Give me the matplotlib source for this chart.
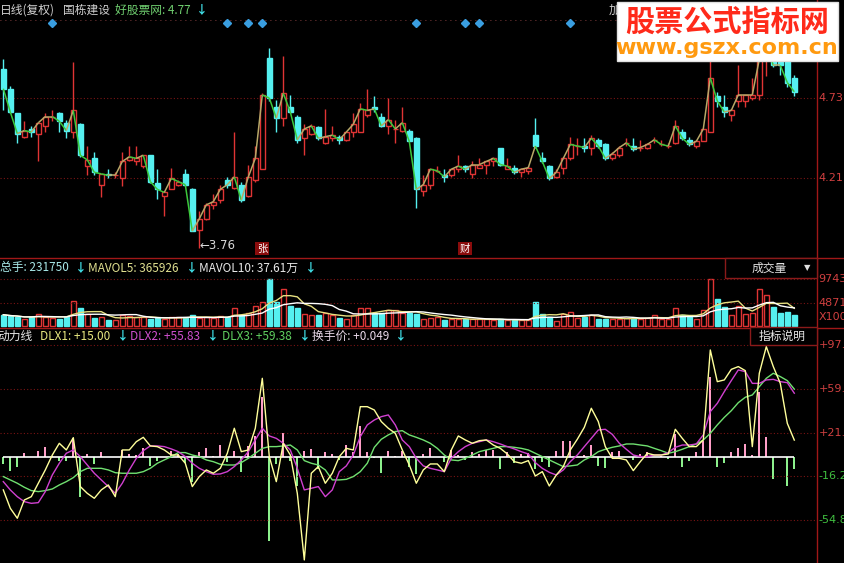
import numpy as np
import pandas as pd
import matplotlib
matplotlib.use("Agg")
import matplotlib.pyplot as plt
import matplotlib.transforms as mtransforms
from matplotlib.collections import LineCollection
from matplotlib.patches import Rectangle
from matplotlib.lines import Line2D

plt.rcParams['font.family'] = ['Noto Sans CJK SC', 'DejaVu Sans']

# ---- price data ----
opens = [4.92, 4.79, 4.63, 4.48, 4.53, 4.50, 4.55, 4.61, 4.63, 4.57,
         4.51, 4.56, 4.29, 4.34, 4.17, 4.24, 4.23, 4.21, 4.33, 4.32,
         4.29, 4.36, 4.18, 4.10, 4.14, 4.17, 4.24, 4.14, 3.88, 3.95,
         4.04, 4.07, 4.20, 4.15, 4.17, 4.10, 4.20, 4.27, 4.99, 4.67,
         4.60, 4.67, 4.61, 4.47, 4.50, 4.54, 4.44, 4.47, 4.48, 4.46,
         4.51, 4.51, 4.62, 4.67, 4.61, 4.55, 4.53, 4.52, 4.52, 4.47,
         4.13, 4.17, 4.26, 4.23, 4.23, 4.27, 4.29, 4.24, 4.28, 4.30,
         4.32, 4.41, 4.27, 4.28, 4.25, 4.26, 4.49, 4.34, 4.29, 4.22,
         4.28, 4.34, 4.42, 4.42, 4.41, 4.46, 4.43, 4.34, 4.36, 4.44,
         4.42, 4.41, 4.41, 4.46, 4.43, 4.42, 4.44, 4.51, 4.46, 4.42,
         4.45, 4.51, 4.74, 4.67, 4.62, 4.71, 4.71, 4.73, 4.75, 5.00,
         5.06, 4.96, 4.98, 4.86]
highs = [4.98, 4.81, 4.63, 4.58, 4.55, 4.57, 4.63, 4.65, 4.64, 4.59,
         4.96, 4.57, 4.42, 4.38, 4.24, 4.27, 4.25, 4.38, 4.42, 4.42,
         4.36, 4.36, 4.27, 4.13, 4.28, 4.20, 4.27, 4.15, 4.00, 4.05,
         4.11, 4.17, 4.22, 4.51, 4.19, 4.30, 4.42, 4.76, 5.05, 4.72,
         5.00, 4.75, 4.62, 4.56, 4.56, 4.55, 4.66, 4.55, 4.49, 4.51,
         4.63, 4.70, 4.79, 4.74, 4.63, 4.73, 4.59, 4.67, 4.53, 4.48,
         4.23, 4.28, 4.29, 4.27, 4.27, 4.36, 4.30, 4.32, 4.34, 4.32,
         4.35, 4.41, 4.34, 4.30, 4.28, 4.29, 4.60, 4.38, 4.30, 4.27,
         4.35, 4.48, 4.47, 4.47, 4.49, 4.47, 4.44, 4.38, 4.42, 4.47,
         4.47, 4.46, 4.44, 4.48, 4.46, 4.44, 4.59, 4.53, 4.48, 4.45,
         4.53, 5.04, 4.77, 4.75, 4.66, 4.94, 4.75, 4.86, 5.06, 5.12,
         5.10, 4.98, 4.99, 4.88]
lows = [4.65, 4.63, 4.44, 4.47, 4.48, 4.32, 4.51, 4.58, 4.51, 4.47,
        4.47, 4.35, 4.23, 4.23, 4.09, 4.21, 4.21, 4.16, 4.32, 4.30,
        4.28, 4.18, 4.08, 3.97, 4.14, 4.16, 4.16, 3.87, 3.76, 3.94,
        4.01, 4.05, 4.15, 4.14, 4.06, 4.09, 4.19, 4.27, 4.71, 4.51,
        4.55, 4.63, 4.44, 4.36, 4.49, 4.46, 4.43, 4.45, 4.43, 4.45,
        4.48, 4.51, 4.61, 4.64, 4.54, 4.50, 4.44, 4.51, 4.45, 4.02,
        4.10, 4.14, 4.25, 4.19, 4.22, 4.25, 4.25, 4.21, 4.28, 4.24,
        4.29, 4.29, 4.27, 4.24, 4.22, 4.24, 4.41, 4.31, 4.20, 4.21,
        4.24, 4.33, 4.36, 4.38, 4.36, 4.41, 4.33, 4.33, 4.35, 4.42,
        4.39, 4.39, 4.40, 4.44, 4.42, 4.41, 4.43, 4.46, 4.42, 4.41,
        4.45, 4.51, 4.67, 4.61, 4.58, 4.67, 4.67, 4.72, 4.72, 4.87,
        4.93, 4.88, 4.80, 4.74]
closes = [4.79, 4.64, 4.50, 4.52, 4.51, 4.57, 4.61, 4.61, 4.58, 4.52,
          4.65, 4.36, 4.33, 4.25, 4.24, 4.23, 4.23, 4.32, 4.35, 4.34,
          4.36, 4.19, 4.14, 4.12, 4.21, 4.19, 4.17, 3.87, 3.95, 4.04,
          4.06, 4.14, 4.17, 4.22, 4.07, 4.22, 4.34, 4.75, 4.73, 4.60,
          4.76, 4.64, 4.46, 4.53, 4.55, 4.47, 4.48, 4.49, 4.46, 4.51,
          4.56, 4.66, 4.65, 4.66, 4.55, 4.59, 4.53, 4.57, 4.45, 4.14,
          4.17, 4.27, 4.26, 4.22, 4.27, 4.29, 4.27, 4.30, 4.30, 4.32,
          4.34, 4.30, 4.29, 4.25, 4.27, 4.28, 4.42, 4.32, 4.21, 4.25,
          4.34, 4.43, 4.42, 4.41, 4.47, 4.42, 4.34, 4.37, 4.41, 4.44,
          4.40, 4.41, 4.43, 4.46, 4.43, 4.42, 4.55, 4.47, 4.43, 4.45,
          4.53, 4.86, 4.71, 4.64, 4.65, 4.75, 4.75, 4.75, 4.98, 5.08,
          4.94, 4.94, 4.83, 4.77]

# volume, in units of 100 shares
volumes = [2336, 1992, 1855, 1374, 1855, 2542, 1855, 1718, 1511, 1855,
           5153, 3710, 2542, 1649, 1855, 1305, 1305, 2198, 2061, 1855,
           1855, 1511, 1649, 1511, 1855, 1855, 1649, 2336, 1649, 1855,
           1649, 1992, 1855, 3779, 2336, 2748, 4053, 4946, 9743, 4946,
           7694, 4122, 3710, 2542, 2336, 2198, 2748, 2198, 1718, 1511,
           2198, 3710, 3710, 2748, 2748, 3366, 3229, 2748, 2748, 2542,
           1511, 1718, 1924, 1237, 1511, 1374, 1511, 1374, 1374, 1374,
           1237, 1374, 1237, 1237, 1237, 1237, 4946, 2405, 1924, 1031,
           2405, 2885, 1718, 1924, 2198, 1511, 1374, 1511, 1511, 1649,
           1649, 1511, 1649, 2336, 1511, 1511, 3710, 2336, 1855, 1511,
           3229, 9743, 5633, 3916, 2300, 4200, 2500, 2600, 7700, 6500,
           4000, 2600, 2900, 2318]

# DLX indicator lines and histogram
dlx1 = [-28.4, -44.4, -53.1, -37.2, -34.3, -22.6, -11.0, 2.0, 12.2, 6.4,
        17.1, -25.5, -31.4, -35.7, -28.4, -24.1, -34.3, 6.4, 6.4, 13.6,
        17.4, 9.9, 9.3, 6.4, 2.0, 2.0, -5.2, -25.5, -16.8, -11.0,
        -13.9, -9.6, 3.5, 25.3, 4.9, 6.4, 25.3, 68.8, 0.6, -21.2,
        12.2, 2.0, -31.4, -89.4, -13.9, -8.1, -22.6, -13.9, 0.6, 7.8,
        6.4, 44.1, 44.1, 41.2, 31.1, 25.3, 20.9, 6.4, -6.7, -22.6,
        -11.0, -5.8, -5.8, -12.5, 6.4, 18.6, 15.1, 12.2, 14.5, 15.1,
        10.7, 7.8, 2.9, -3.8, -5.2, -2.9, -16.3, -12.5, -25.0, -15.4,
        -8.1, 6.4, 15.7, 26.1, 42.7, 31.1, 9.3, -0.9, -0.9, -2.3,
        -11.6, -3.8, 3.5, 2.0, 2.0, 2.9, 24.4, 16.5, 9.3, 9.3,
        15.1, 93.5, 65.9, 67.4, 76.6, 79.0, 75.5, 9.3, 73.2, 96.4,
        79.0, 64.4, 29.6, 15.00]
dlx2 = [-21.2, -28.4, -34.3, -38.6, -40.1, -39.5, -29.9, -15.4, -5.2, 3.5,
        6.4, 0.6, -6.7, -13.9, -19.7, -25.5, -31.4, -22.6, -11.0, -0.9,
        5.8, 9.9, 9.9, 9.3, 7.3, 4.9, 0.6, -5.2, -9.6, -12.5,
        -14.8, -14.5, -12.5, -8.1, -2.3, 4.9, 15.1, 25.3, 18.6, 16.5,
        12.2, 6.4, -9.6, -28.4, -27.0, -25.5, -34.3, -28.4, -12.5, -7.5,
        2.0, 18.0, 28.2, 32.5, 35.4, 36.9, 28.2, 15.1, 9.3, -0.9,
        -7.5, -9.6, -11.0, -12.5, -0.9, 4.9, 9.3, 12.2, 13.6, 15.1,
        13.6, 11.6, 9.3, 7.3, 4.9, 2.9, -4.6, -9.6, -13.1, -15.4,
        -11.0, -3.8, 2.0, 9.3, 16.5, 23.8, 24.4, 20.0, 12.2, 7.0,
        2.0, 0.6, 0.6, 2.0, 2.0, 4.1, 8.7, 10.7, 10.7, 11.6,
        19.5, 39.8, 47.0, 57.2, 66.8, 76.1, 74.6, 64.4, 64.4, 67.4,
        67.9, 65.9, 65.0, 55.83]
dlx3 = [-16.8, -19.7, -22.6, -26.1, -29.0, -29.9, -29.0, -27.6, -24.1, -21.2,
        -17.7, -12.5, -9.6, -9.6, -9.6, -11.0, -13.4, -13.9, -13.9, -13.9,
        -12.5, -9.6, -5.2, -2.3, 0.6, 4.1, 4.1, 2.0, 0.6, -2.3,
        -3.8, -6.1, -6.7, -6.7, -4.6, -0.9, 3.5, 7.8, 9.3, 9.3,
        9.9, 10.7, 6.4, -2.9, -5.2, -6.7, -11.0, -19.7, -19.7, -19.2,
        -16.8, -12.5, -5.2, 8.7, 15.7, 19.5, 22.4, 23.2, 19.5, 17.4,
        15.1, 12.2, 7.8, 2.0, -2.3, -2.9, -0.9, 2.0, 4.9, 6.4,
        7.8, 9.3, 9.3, 8.7, 7.8, 6.4, 3.5, 0.6, -2.3, -5.2,
        -8.1, -7.5, -6.7, -2.3, 0.6, 4.9, 7.0, 8.7, 9.9, 11.6,
        11.6, 10.7, 9.9, 7.8, 5.8, 3.5, 4.9, 7.0, 9.3, 11.6,
        15.1, 20.9, 28.2, 34.8, 40.6, 47.6, 52.3, 54.3, 61.5, 68.8,
        73.2, 70.3, 66.8, 59.38]
hist = [-5.8, -12.2, -8.7, 3.8, 0, 5.8, 9.3, 1.5, -2.9, -3.5,
        16.8, -34.3, 2.9, -5.8, 4.9, 0, 0, 6.4, 2.9, 2.3,
        8.1, -7.3, -3.5, 0, 5.8, 2.9, -5.2, -21.8, 4.4, 8.1,
        1.5, 11.0, -4.4, 5.8, -13.1, 10.2, 18.9, 52.2, -72.6, -5.8,
        20.9, -2.9, -24.7, 5.8, 7.3, -10.2, 4.9, 2.9, -2.3, 11.0,
        4.9, 27.6, 4.4, -0.6, -13.9, 5.8, 1.5, 5.8, -8.1, -14.5,
        2.9, 8.1, 0, -4.4, 6.4, 2.3, -2.3, 4.9, 2.9, 6.4,
        6.4, -10.2, 4.4, -5.2, 2.9, 3.5, -10.2, -4.4, -8.7, 5.8,
        14.5, 13.9, 0, 2.3, 11.0, -7.3, -9.3, 4.4, 5.8, 0,
        -2.3, 2.9, 4.4, 0, 1.5, -1.5, 20.3, -8.7, -3.5, 4.4,
        14.5, 69.7, -8.7, -5.2, 4.9, 7.8, 11.6, 2.3, 56.6, 17.4,
        -18.9, 0, -24.7, -10.2]

signal_days = [7, 32, 35, 37, 59, 66, 68, 81]   # blue diamonds on top
event_marks = [(37, '张'), (66, '财')]
price_ticks = [4.73, 4.21]
vol_ticks = [9743, 4871]
dlx_ticks = [97.6, 59.5, 21.4, -16.2, -54.8]

# ---- figure layout, in pixels ----
W, H = 844, 563
AX_R = 817
fig = plt.figure(figsize=(W / 100, H / 100), dpi=100, facecolor='black')


def px_axes(y0, y1):
    ax = fig.add_axes([0, 1 - y1 / H, AX_R / W, (y1 - y0) / H])
    ax.set_facecolor('black')
    ax.set_axis_off()
    ax.set_xlim(-3.3 / 7, (AX_R - 3.3) / 7)
    return ax


def ftext(x, y, s, color, size=8.5, **kw):
    fig.text(x / W, 1 - y / H, s, color=color, fontsize=size, va='center', **kw)


RED = '#e03434'
CYAN = '#55f0f0'
GRID = '#7a1414'
LINE = '#a01818'
TICK_RED = '#d04040'
n = len(closes)
x = np.arange(n)
up = [c >= o for o, c in zip(opens, closes)]
bw = 0.66

# ---- price panel ----
axp = px_axes(20, 258)
axp.set_ylim(4.73 - 160 * 0.00646, 4.73 + 78 * 0.00646)
for t in price_ticks:
    axp.axhline(t, color=GRID, lw=0.8, ls=(0, (1, 2)))
axp.axhline(axp.get_ylim()[1], color='#5a2a2a', lw=1.2, ls=(0, (1, 2)))

for i in range(n):
    o, h, l, c = opens[i], highs[i], lows[i], closes[i]
    col = RED if up[i] else CYAN
    lo_b, hi_b = min(o, c), max(o, c)
    axp.vlines(i, l, lo_b, color=col, lw=1)
    axp.vlines(i, hi_b, h, color=col, lw=1)
    if hi_b - lo_b < 0.004:
        axp.hlines(o, i - bw / 2, i + bw / 2, color=col, lw=1)
    elif up[i]:
        axp.add_patch(Rectangle((i - bw / 2, lo_b), bw, hi_b - lo_b,
                                fc='black', ec=col, lw=1, zorder=3))
    else:
        axp.add_patch(Rectangle((i - bw / 2, lo_b), bw, hi_b - lo_b,
                                fc=col, ec=col, lw=1, zorder=3))

segs = [[(i, closes[i]), (i + 1, closes[i + 1])] for i in range(n - 1)]
seg_cols = ['#b8a868' if closes[i + 1] >= closes[i] else '#3cc83c' for i in range(n - 1)]
axp.add_collection(LineCollection(segs, colors=seg_cols, lw=1.1, zorder=4))

top = mtransforms.blended_transform_factory(axp.transData, axp.transAxes)
axp.plot(signal_days, [0.986] * len(signal_days), 'D', color='#3a9ee0', ms=4.5,
         transform=top, clip_on=False, ls='none')
for i, ch in event_marks:
    axp.text(i, 0.04, ch, color='white', fontsize=7.5, ha='center', va='center',
             transform=top, bbox=dict(fc='#8a0c0c', ec='none', pad=1.2))
lo_i = int(np.argmin(lows))
axp.annotate('\u2190' + f'{lows[lo_i]:.2f}', (lo_i, lows[lo_i]), xytext=(0, 2),
             textcoords='offset points', color='#d8d8d8', fontsize=8.5,
             va='center', family=['DejaVu Sans'])

rt = mtransforms.blended_transform_factory(axp.transAxes, axp.transData)
for t in price_ticks:
    axp.text(1.002, t, f'{t:.2f}', color=TICK_RED, fontsize=8, va='center',
             transform=rt, clip_on=False, family=['DejaVu Sans'])

# ---- volume panel ----
axv = px_axes(258, 328)
vscale = 9743 / 47.0
axv.set_ylim(-2 * vscale, 68 * vscale)
for t in vol_ticks:
    axv.axhline(t, color=GRID, lw=0.8, ls=(0, (1, 2)))
for i in range(n):
    if up[i]:
        axv.add_patch(Rectangle((i - bw / 2, 0), bw, volumes[i], fc='black', ec=RED, lw=1))
    else:
        axv.add_patch(Rectangle((i - bw / 2, 0), bw, volumes[i], fc=CYAN, ec=CYAN, lw=1))
vol_s = pd.Series(volumes, dtype=float)
axv.plot(x, vol_s.rolling(5, min_periods=1).mean(), color='#e6e080', lw=1)
axv.plot(x, vol_s.rolling(10, min_periods=1).mean(), color='white', lw=1)
rv = mtransforms.blended_transform_factory(axv.transAxes, axv.transData)
for t in vol_ticks:
    axv.text(1.002, t, str(t), color=TICK_RED, fontsize=8, va='center',
             transform=rv, clip_on=False, family=['DejaVu Sans'])
axv.text(1.002, 0.15, 'X100', color=TICK_RED, fontsize=8, va='center',
         transform=axv.transAxes, clip_on=False, family=['DejaVu Sans'])

# ---- DLX panel ----
axi = px_axes(328, 563)
axi.set_ylim((457.3 - 563) / 1.148, (457.3 - 328) / 1.148)
for t in dlx_ticks:
    axi.axhline(t, color=GRID, lw=0.8, ls=(0, (1, 2)))
hcols = ['#ff9ec8' if v > 0 else '#8cf08c' for v in hist]
axi.bar(x, hist, width=0.3, color=hcols)
axi.hlines(0, 0, n - 1, color='white', lw=1.2)
axi.plot(x, dlx3, color='#70e070', lw=1)
axi.plot(x, dlx2, color='#d040d0', lw=1)
axi.plot(x, dlx1, color='#ffff9a', lw=1)
ri = mtransforms.blended_transform_factory(axi.transAxes, axi.transData)
for t in dlx_ticks:
    axi.text(1.002, t, f'{t:+.1f}', color=TICK_RED if t > 0 else '#40c040',
             fontsize=8, va='center', transform=ri, clip_on=False, family=['DejaVu Sans'])

# ---- frame lines ----
for yy in (258, 328):
    fig.add_artist(Line2D([0, 1], [1 - yy / H] * 2, color=LINE, lw=1))
fig.add_artist(Line2D([AX_R / W] * 2, [0, 1], color=LINE, lw=1))

# ---- header texts ----
ARROW = '#40e0e8'
ftext(0, 10, '日线(复权)', '#d0d0d0')
ftext(63, 10, '国栋建设', '#d0d0d0')
ftext(115, 10, f'好股票网: {closes[-1]:.2f}', '#70d070')
ftext(196, 10, '↓', ARROW, weight='bold')
ftext(609, 10, '加', '#d0d0d0')

ftext(0, 268, f'总手: {volumes[-1] * 100 - 50}', '#a8e8e8')
ftext(75, 268, '↓', ARROW, weight='bold')
ftext(88, 268, 'MAVOL5: 365926', '#e0e090')
ftext(186, 268, '↓', ARROW, weight='bold')
ftext(199, 268, 'MAVOL10: 37.61万', '#e8e8e8')
ftext(305, 268, '↓', ARROW, weight='bold')

ftext(-3, 336, '动力线', '#e8e8e8')
ftext(40, 336, f'DLX1: {dlx1[-1]:+.2f}', '#e8e880')
ftext(117, 336, '↓', ARROW, weight='bold')
ftext(130, 336, f'DLX2: {dlx2[-1]:+.2f}', '#d050d0')
ftext(207, 336, '↓', ARROW, weight='bold')
ftext(222, 336, f'DLX3: {dlx3[-1]:+.2f}', '#60d060')
ftext(299, 336, '↓', ARROW, weight='bold')
ftext(312, 336, '换手价: +0.049', '#e8d8e8')
ftext(395, 336, '↓', ARROW, weight='bold')

# selector boxes
fig.add_artist(Rectangle((725 / W, 1 - 278 / H), 92 / W, 20 / H, transform=fig.transFigure,
                         fc='black', ec='#8a1a1a', lw=1, zorder=5))
ftext(752, 268, '成交量', '#e0e0e0', zorder=6)
ftext(804, 268, '▼', '#e0e0e0', size=6, zorder=6, family=['DejaVu Sans'])
fig.add_artist(Rectangle((750 / W, 1 - 345 / H), 67 / W, 18 / H, transform=fig.transFigure,
                         fc='black', ec='#8a1a1a', lw=1, zorder=5))
ftext(759, 336, '指标说明', '#e8e8e8', zorder=6)

# watermark
fig.add_artist(Rectangle((617 / W, 1 - 61 / H), 221 / W, 59 / H, transform=fig.transFigure,
                         fc='white', ec='#e0e0e0', lw=1, zorder=10))
fig.text(727 / W, 1 - 22 / H, '股票公式指标网', color='#ff2a1a', fontsize=21,
         weight='bold', ha='center', va='center', zorder=11)
fig.text(727 / W, 1 - 48 / H, 'www.gszx.com.cn', color='#ff9a10', fontsize=16,
         weight='bold', ha='center', va='center', zorder=11, family=['DejaVu Sans'])

fig.savefig('out.png', dpi=100, facecolor='black')
